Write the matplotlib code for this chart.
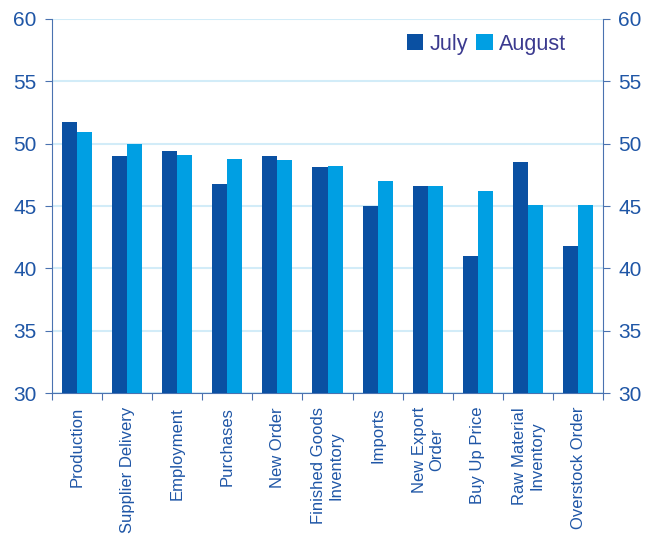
import matplotlib
matplotlib.use("Agg")
import matplotlib.pyplot as plt
import numpy as np

plt.rcParams['font.family'] = ['Liberation Sans', 'DejaVu Sans']

# categories and index values
categories = ["Production", "Supplier Delivery", "Employment", "Purchases",
              "New Order", "Finished Goods\nInventory", "Imports",
              "New Export\nOrder", "Buy Up Price", "Raw Material\nInventory",
              "Overstock Order"]
july = [51.7, 49.0, 49.4, 46.8, 49.0, 48.1, 45.0, 46.6, 41.0, 48.5, 41.8]
august = [50.9, 50.0, 49.1, 48.8, 48.7, 48.2, 47.0, 46.6, 46.2, 45.1, 45.1]

dark = "#0a50a2"
light = "#009fe3"
axis_col = "#4a72b0"
text_col = "#1f56a6"

fig = plt.figure(figsize=(6.57, 5.35), dpi=100)
ax = fig.add_axes([0.079, 0.2654, 0.839, 0.6991])

x = np.arange(len(categories))
w = 0.3
ax.bar(x - w / 2, july, w, color=dark, label="July", zorder=3)
ax.bar(x + w / 2, august, w, color=light, label="August", zorder=3)

ax.set_ylim(30, 60)
ax.set_xlim(-0.5, len(categories) - 0.5)
ax.set_yticks(range(30, 61, 5))
ax.yaxis.grid(True, color="#d2ecf8", linewidth=1.5, zorder=0)
ax.tick_params(axis="y", labelsize=15, colors=axis_col, labelcolor=text_col,
               length=5, pad=6, left=True, right=True,
               labelleft=True, labelright=True)

# ticks at category boundaries, labels at centers
ax.set_xticks(np.arange(-0.5, len(categories), 1.0))
ax.set_xticklabels([])
ax.set_xticks(x, minor=True)
ax.set_xticklabels(categories, minor=True, rotation=90, ha="center", va="top",
                   multialignment="center", fontsize=12, color=text_col)
ax.tick_params(axis="x", which="major", length=5, colors=axis_col)
ax.tick_params(axis="x", which="minor", length=0, pad=10)

ax.spines["top"].set_visible(False)
for s in ["left", "right", "bottom"]:
    ax.spines[s].set_color(axis_col)

leg = ax.legend(loc="upper right", bbox_to_anchor=(0.968, 1.012), ncol=2,
                frameon=False, fontsize=15.5, handlelength=0.75,
                handleheight=0.75, handletextpad=0.3, columnspacing=0.4)
for t in leg.get_texts():
    t.set_color("#3b3a8f")

fig.savefig("out.png", dpi=100)
